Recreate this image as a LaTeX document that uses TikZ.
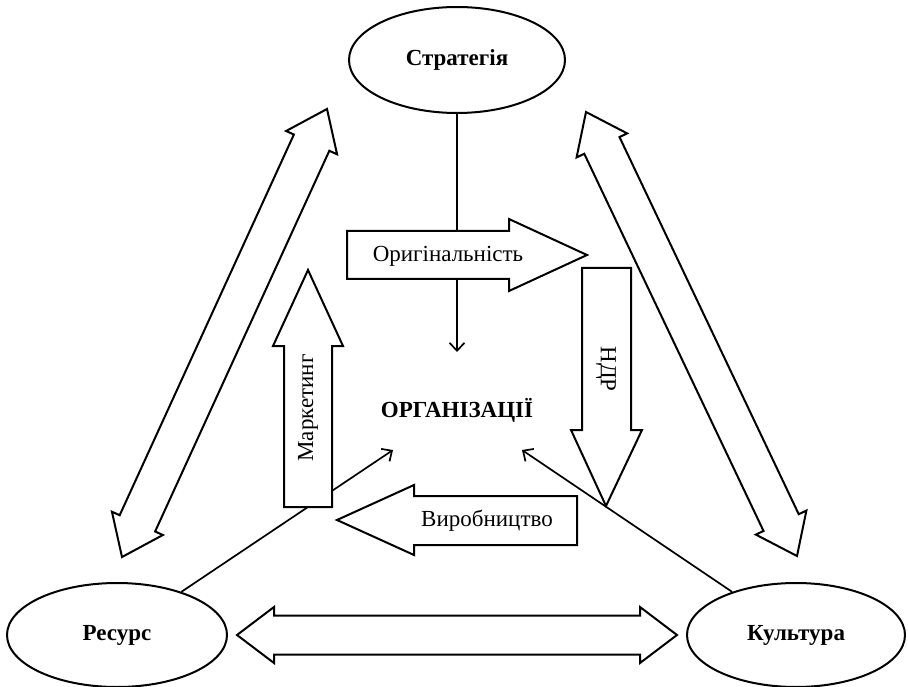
\documentclass[tikz,border=0pt]{standalone}
\usepackage{fontspec}
\setmainfont{Liberation Serif}
\usetikzlibrary{shapes.geometric,arrows.meta,calc}

% Hollow double-headed block arrow between two named tip coordinates
\newcommand\twowayarrow[2]{%
  \path ($(#1)!37pt!(#2)$) coordinate (#1-h) ($(#2)!37pt!(#1)$) coordinate (#2-h);
  \draw[blockarrow] (#1)
    -- ($(#1-h)!28pt!90:(#2)$) -- ($(#1-h)!19.5pt!90:(#2)$)
    -- ($(#2-h)!19.5pt!-90:(#1)$) -- ($(#2-h)!28pt!-90:(#1)$)
    -- (#2)
    -- ($(#2-h)!28pt!90:(#1)$) -- ($(#2-h)!19.5pt!90:(#1)$)
    -- ($(#1-h)!19.5pt!-90:(#2)$) -- ($(#1-h)!28pt!-90:(#2)$)
    -- cycle;}

\begin{document}
\begin{tikzpicture}[x=1pt,y=-1pt,
  every node/.style={font=\fontsize{23}{27}\selectfont},
  pole/.style={ellipse,draw,line width=2pt,inner sep=0pt,font=\fontsize{23}{27}\selectfont\bfseries},
  blockarrow/.style={draw,fill=white,line width=2pt,line join=miter},
  link/.style={line width=1.7pt,-{Straight Barb[length=8pt,width=15pt]}},
  label/.style={inner sep=0pt}]
\useasboundingbox (0,0) rectangle (908,687);

% the three poles
\node[pole,minimum width=216pt,minimum height=106pt] (strat) at (457,60) {Стратегія};
\node[pole,minimum width=220pt,minimum height=104pt] (res) at (117,635) {Ресурс};
\node[pole,minimum width=218pt,minimum height=104pt] (cult) at (796,635) {Культура};

% centre
\node[label,font=\fontsize{23}{27}\selectfont\bfseries] (org) at (457,410) {ОРГАНІЗАЦІЇ};
\coordinate (inTop) at (457,352);
\coordinate (inLeft) at (393,450);
\coordinate (inRight) at (522,450);

% influence lines into the centre
\draw[link] (strat) -- (inTop);
\draw[link] (res) -- (inLeft);
\draw[link] (cult) -- (inRight);

% two-way links between the poles
\coordinate (lb) at (122,557); \coordinate (lt) at (327,109);
\coordinate (rt) at (586,112); \coordinate (rb) at (797,556);
\coordinate (bl) at (237,635); \coordinate (br) at (677,635);
\twowayarrow{lb}{lt}
\twowayarrow{rt}{rb}
\twowayarrow{bl}{br}

% block arrows round the centre
\draw[blockarrow] (347,231) -- (509,231) -- (509,219) -- (587,255)
  -- (509,291) -- (509,279) -- (347,279) -- cycle;
\node[label] (orig) at (448,256) {Оригінальність};

\draw[blockarrow] (582,268) -- (631,268) -- (631,430) -- (642,430)
  -- (606,506) -- (571,430) -- (582,430) -- cycle;
\node[label,rotate=-90] (ndr) at (606,369) {НДР};

\draw[blockarrow] (284,507) -- (284,346) -- (273,346) -- (308,270)
  -- (343,346) -- (332,346) -- (332,507) -- cycle;
\node[label,rotate=90] (mark) at (308,408) {Маркетинг};

\draw[blockarrow] (577,496) -- (414,496) -- (414,485) -- (337,520)
  -- (414,555) -- (414,545) -- (577,545) -- cycle;
\node[label] (prod) at (487,521) {Виробництво};
\end{tikzpicture}
\end{document}
